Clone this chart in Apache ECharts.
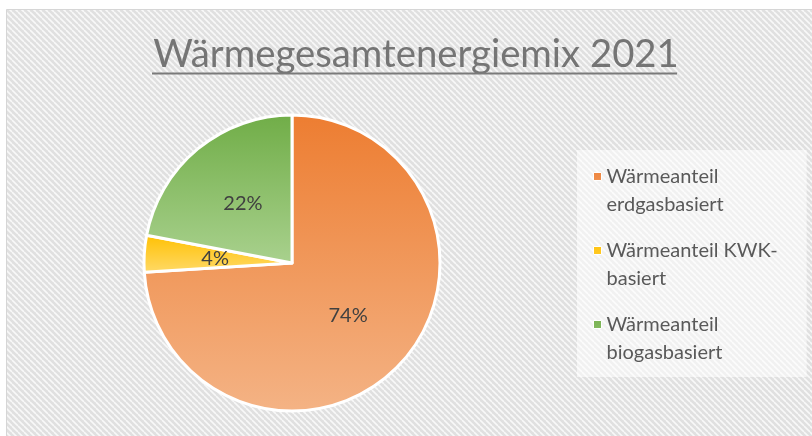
<!DOCTYPE html>
<html><head><meta charset="utf-8">
<script src="https://cdn.jsdelivr.net/npm/echarts@6/dist/echarts.min.js"></script>
<style>html,body{margin:0;padding:0;background:#fff;}#c{width:812px;height:436px;}</style>
</head><body><div id="c"></div>
<script>
const titleText = 'Wärmegesamtenergiemix 2021';
const categories = ['Wärmeanteil erdgasbasiert', 'Wärmeanteil KWK-basiert', 'Wärmeanteil biogasbasiert'];
const legendLines = [['Wärmeanteil', 'erdgasbasiert'], ['Wärmeanteil KWK-', 'basiert'], ['Wärmeanteil', 'biogasbasiert']];
const values = [74, 4, 22];
const topColors = ['#ED7D31', '#FFC000', '#70AD47'];
const bottomColors = ['#F4B385', '#FFDA6A', '#A9D18E'];

const FONT = 'Lato';

// hatch pattern tile
const tile = document.createElement('canvas');
tile.width = 6; tile.height = 6;
const tc = tile.getContext('2d');
tc.fillStyle = '#e0e0e0';
tc.fillRect(0, 0, 6, 6);
tc.strokeStyle = '#f8f8f8';
tc.lineWidth = 1.6;
for (let k = -6; k <= 6; k += 6) {
  tc.beginPath(); tc.moveTo(k, 0); tc.lineTo(k + 6, 6); tc.stroke();
}

const chart = echarts.init(document.getElementById('c'));
chart.setOption({
  backgroundColor: '#ffffff',
  animation: false,
  graphic: [
    { type: 'rect', z: -10, shape: { x: 6.5, y: 9.5, width: 820, height: 440 },
      style: { fill: { image: tile, repeat: 'repeat' }, stroke: '#d6d6d6', lineWidth: 1 } },
    { type: 'line', z: 10, shape: { x1: 152, y1: 73.5, x2: 677, y2: 73.5 },
      style: { stroke: '#7a7a7a', lineWidth: 2 } }
  ],
  title: {
    text: titleText,
    left: 411, top: 31, textAlign: 'center',
    textStyle: { fontFamily: FONT, fontSize: 38.3, fontWeight: 'normal', color: '#757575' }
  },
  legend: {
    orient: 'vertical',
    left: 577, top: 150,
    padding: [12, 29, 10, 16],
    itemGap: 17,
    itemWidth: 8, itemHeight: 56,
    itemTextGap: 10,
    backgroundColor: 'rgba(255,255,255,0.55)',
    icon: 'path://M0,0h0.01v0.01h-0.01z M0,10h8v8h-8z M0,56h0.01v0.01h-0.01z',
    itemStyle: { borderWidth: 1, borderColor: '#ffffff' },
    data: categories,
    formatter: function (name) { return legendLines[categories.indexOf(name)].join('\n'); },
    textStyle: { fontFamily: FONT, fontSize: 20, color: '#595959', lineHeight: 28 }
  },
  series: [{
    type: 'pie',
    center: [292, 263],
    radius: 148,
    startAngle: 90,
    clockwise: true,
    label: {
      show: true, position: 'inside', formatter: '{d}%',
      fontFamily: FONT, fontSize: 20, color: '#404040'
    },
    labelLine: { show: false },
    itemStyle: { borderColor: '#ffffff', borderWidth: 3 },
    data: categories.map((n, i) => ({
      name: n, value: values[i],
      itemStyle: { color: new echarts.graphic.LinearGradient(0, 0, 0, 1, [
        { offset: 0, color: topColors[i] }, { offset: 1, color: bottomColors[i] }]) }
    }))
  }]
});
</script></body></html>
